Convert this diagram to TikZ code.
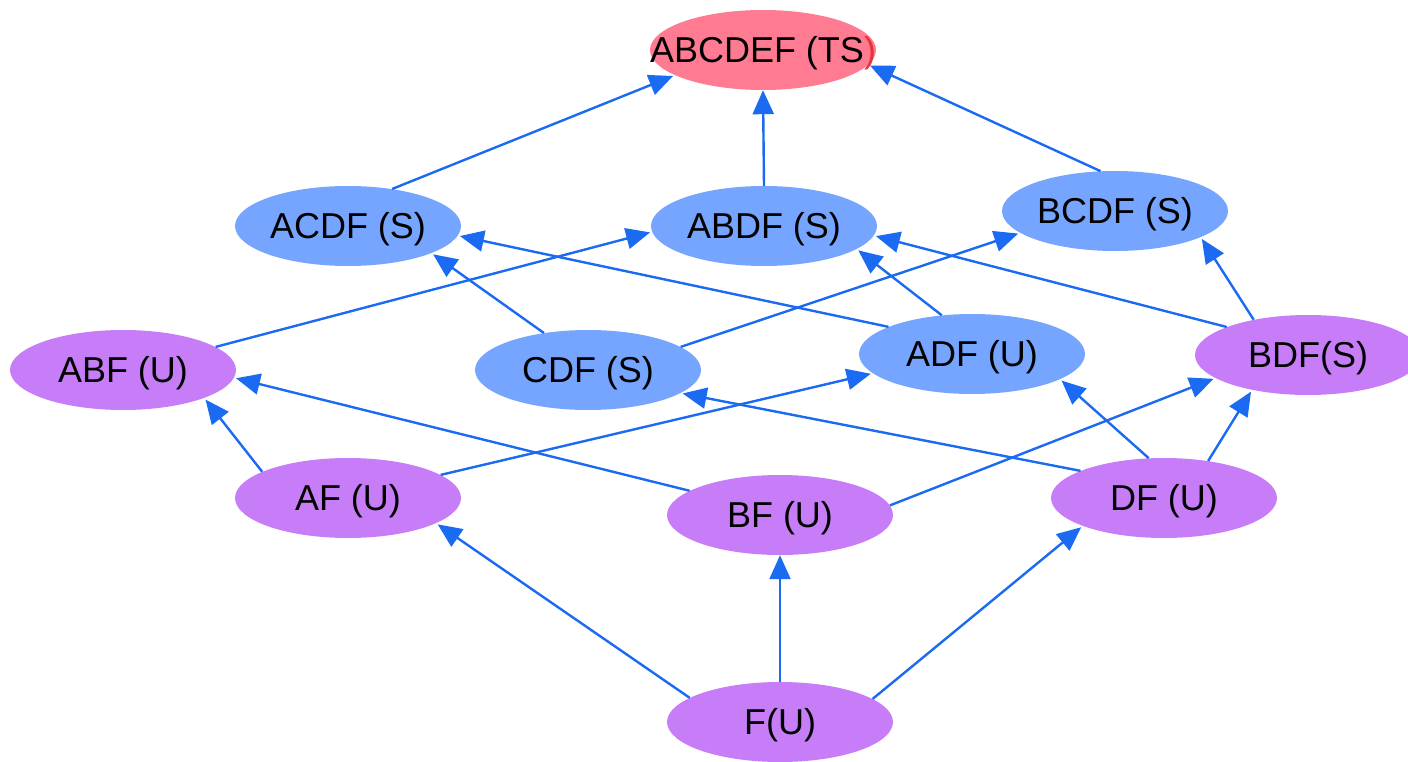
\documentclass[tikz,border=0pt]{standalone}
\usepackage{fontspec}
\setmainfont{Liberation Sans}
\usetikzlibrary{shapes.geometric,arrows.meta}
\definecolor{tsred}{HTML}{FF7B92}
\definecolor{sblue}{HTML}{76A5FF}
\definecolor{upurple}{HTML}{C67DF7}
\definecolor{edgeblue}{HTML}{1A6AF2}
\definecolor{parred}{HTML}{E8323C}
\newcommand{\lbl}[1]{\makebox[0pt]{\raisebox{-0.358em}[0pt][0pt]{#1}}}
\begin{document}
\begin{tikzpicture}[x=1pt,y=-1pt,
  ell/.style={ellipse, minimum width=226pt, minimum height=80pt, inner sep=0pt,
    font=\fontsize{36}{42}\selectfont},
  tsnode/.style={ell, fill=tsred},
  snode/.style={ell, fill=sblue},
  unode/.style={ell, fill=upurple},
  conn/.style={draw=edgeblue, line width=2.4pt, shorten >=2pt,
    -{Triangle[length=24pt,width=21pt]}, edgeblue}]
\useasboundingbox (0,0) rectangle (1408,762);
\node[tsnode] (abcdef) at (763,50) {\lbl{ABCDEF (TS\textcolor{parred}{)}}};
\node[snode] (acdf) at (348,226) {\lbl{ACDF (S)}};
\node[snode] (abdf) at (764,226) {\lbl{ABDF (S)}};
\node[snode] (bcdf) at (1115,211) {\lbl{BCDF (S)}};
\node[unode] (abf) at (123,370) {\lbl{ABF (U)}};
\node[snode] (cdf) at (588,370) {\lbl{CDF (S)}};
\node[snode] (adf) at (972,354) {\lbl{ADF (U)}};
\node[unode] (bdf) at (1308,355) {\lbl{BDF(S)}};
\node[unode] (af) at (348,498) {\lbl{AF (U)}};
\node[unode] (bf) at (780,515) {\lbl{BF (U)}};
\node[unode] (df) at (1164,498) {\lbl{DF (U)}};
\node[unode] (f) at (780,722) {\lbl{F(U)}};

\draw[conn] (acdf.40) -- (abcdef.196);
\draw[conn, shorten >=0pt] (abdf.90) -- (abcdef.270);
\draw[conn] (bcdf.110) -- (abcdef.352);
\draw[conn] (cdf.140) -- (acdf.342);
\draw[conn] (abf.14.5) -- (abdf.183);
\draw[conn] (adf.162) -- (acdf.355);
\draw[conn] (adf.128) -- (abdf.346);
\draw[conn] (cdf.14.5) -- (bcdf.193);
\draw[conn] (bdf.161) -- (abdf.355);
\draw[conn] (bdf.147) -- (bcdf.343);
\draw[conn] (af.163) -- (abf.341);
\draw[conn] (bf.165) -- (abf.356.5);
\draw[conn] (af.14) -- (adf.191);
\draw[conn] (df.162) -- (cdf.346);
\draw[conn] (df.111) -- (adf.344);
\draw[conn] (bf.5) -- (bdf.194);
\draw[conn] (df.40) -- (bdf.212);
\draw[conn] (f.165.5) -- (af.344);
\draw[conn, shorten >=0pt] (f.90) -- (bf.270);
\draw[conn] (f.14.6) -- (df.199);
\end{tikzpicture}
\end{document}
